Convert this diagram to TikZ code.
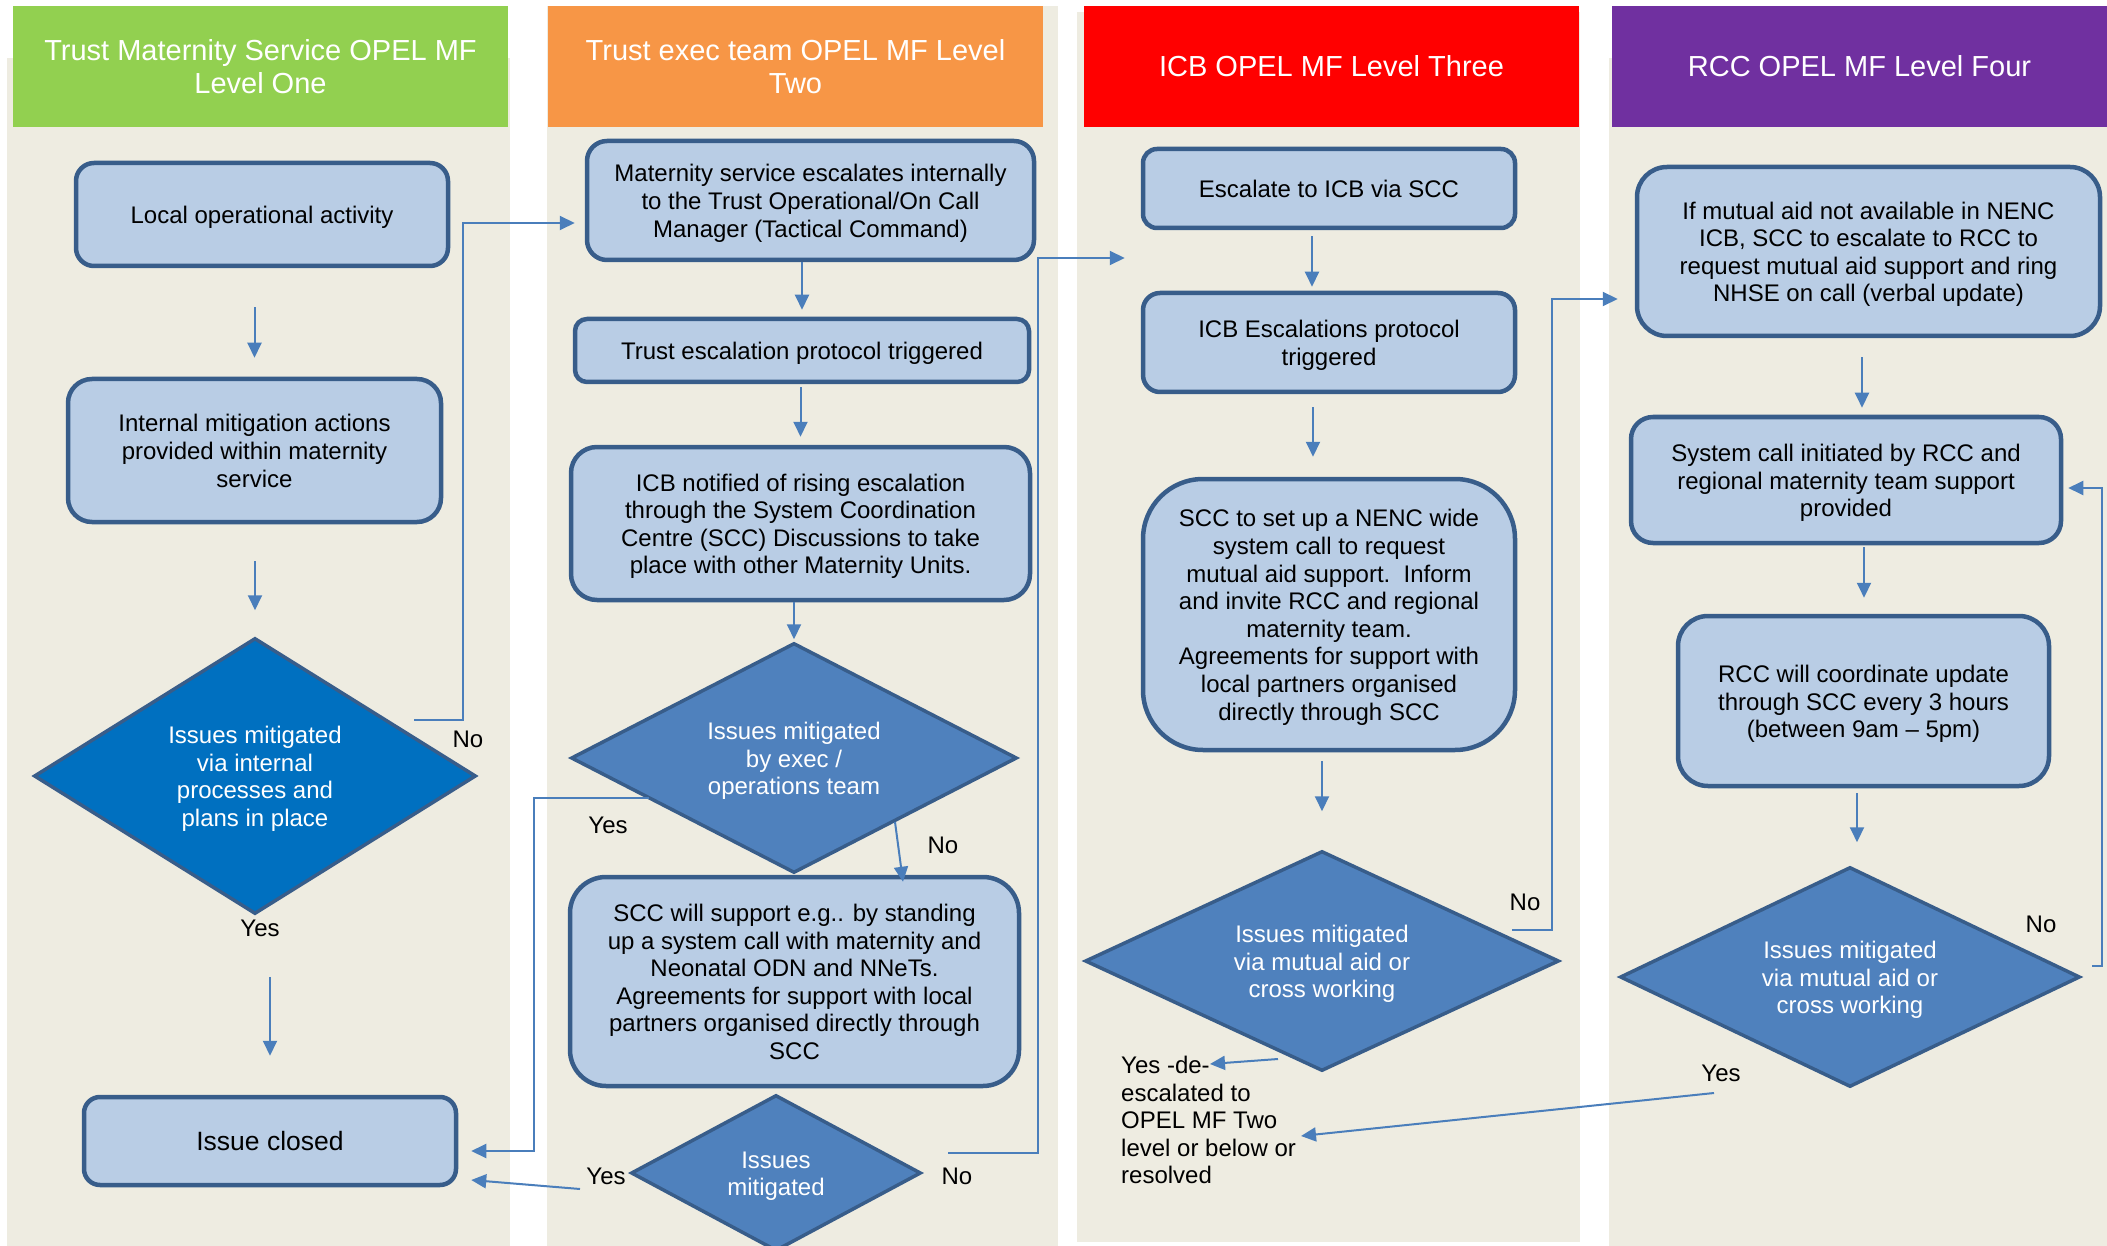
\documentclass[tikz,border=0pt]{standalone}
\usepackage{fontspec}
\setmainfont{Liberation Sans}
\usetikzlibrary{shapes.geometric,arrows.meta,calc}
\definecolor{bgc}{HTML}{EEECE1}
\definecolor{boxfill}{HTML}{B9CDE5}
\definecolor{boxline}{HTML}{385D8A}
\definecolor{diafill}{HTML}{4F81BD}
\definecolor{diadark}{HTML}{0070C0}
\definecolor{arrowc}{HTML}{4A7EBB}
\definecolor{hgreen}{HTML}{92D050}
\definecolor{horange}{HTML}{F79646}
\definecolor{hred}{HTML}{FF0000}
\definecolor{hpurple}{HTML}{7030A0}
\newcommand\boxfont{\fontsize{24}{27.6}\selectfont}
\newcommand\bigboxfont{\fontsize{26.5}{30}\selectfont}
\newcommand\hdrfont{\fontsize{29}{33}\selectfont}
\newcommand\fs{\rule{0pt}{25pt}}
\tikzset{
  vstrut/.style={execute at end node={\rule[-7pt]{0pt}{0pt}}},
  box/.style={draw=boxline, fill=boxfill, line width=4.5pt, align=center,
    inner sep=0pt, font=\boxfont, text=black, vstrut},
  dia/.style={diamond, draw=boxline, fill=diafill, line width=3.5pt, align=center,
    inner sep=0pt, aspect=1.6, text=white, font=\boxfont, vstrut},
  arr/.style={draw=arrowc, line width=2pt, -{Triangle[length=15pt,width=14pt]}},
  lab/.style={font=\boxfont, inner sep=0pt, text=black},
  hdr/.style={inner sep=0pt, align=center, text=white, font=\hdrfont},
}
\begin{document}
\begin{tikzpicture}[x=1pt,y=-1pt]
\clip (0,0) rectangle (2107,1246);
\fill[white] (0,0) rectangle (2107,1246);
% column backgrounds
\fill[bgc] (7,58) rectangle (510,1246);
\fill[bgc] (547,6) rectangle (1058,1246);
\fill[bgc] (1077,12) rectangle (1580,1242);
\fill[bgc] (1609,58) rectangle (2107,1246);
% headers
\node[hdr, fill=hgreen, minimum width=495pt, minimum height=121pt] (h1) at (260.5,66.5) {Trust Maternity Service OPEL MF\\Level One};
\node[hdr, fill=horange, minimum width=495pt, minimum height=121pt] (h2) at (795.5,66.5) {Trust exec team OPEL MF Level\\Two};
\node[hdr, fill=hred, minimum width=495pt, minimum height=121pt] (h3) at (1331.5,66.5) {ICB OPEL MF Level Three};
\node[hdr, fill=hpurple, minimum width=495pt, minimum height=121pt] (h4) at (1859.5,66.5) {RCC OPEL MF Level Four};

% column 1
\node[box, minimum width=372pt, minimum height=103pt, rounded corners=18pt] (b1) at (262,214.5) {\fs Local operational activity};
\node[box, minimum width=373pt, minimum height=143pt, rounded corners=24pt] (b2) at (254.5,450.5) {\fs Internal mitigation actions\\provided within maternity\\service};
\node[dia, fill=diadark, minimum width=442pt, minimum height=276pt] (d1) at (255,776) {\fs Issues mitigated\\via internal\\processes and\\plans in place};
\node[box, font=\bigboxfont, minimum width=372pt, minimum height=88pt, rounded corners=16pt] (b3) at (270,1141) {\fs Issue closed};

% column 2
\node[box, minimum width=447pt, minimum height=119pt, rounded corners=20pt] (b4) at (810.5,200.5) {\fs Maternity service escalates internally\\to the Trust Operational/On Call\\Manager (Tactical Command)};
\node[box, minimum width=454pt, minimum height=63pt, rounded corners=12pt] (b5) at (802,350.5) {\fs Trust escalation protocol triggered};
\node[box, minimum width=459pt, minimum height=153pt, rounded corners=26pt] (b6) at (800.5,523.5) {\fs ICB notified of rising escalation\\through the System Coordination\\Centre (SCC) Discussions to take\\place with other Maternity Units.};
\node[dia, minimum width=446pt, minimum height=230pt] (d2) at (794,758) {\fs Issues mitigated\\by exec /\\operations team};
\node[box, minimum width=449pt, minimum height=209pt, rounded corners=36pt] (b7) at (794.5,981.5) {\fs SCC will support e.g.. by standing\\up a system call with maternity and\\Neonatal ODN and NNeTs.\\Agreements for support with local\\partners organised directly through\\SCC};
\node[dia, minimum width=290pt, minimum height=156pt] (d3) at (776,1173) {\fs Issues\\mitigated};

% column 3
\node[box, minimum width=372pt, minimum height=79pt, rounded corners=14pt] (b8) at (1329,188.5) {\fs Escalate to ICB via SCC};
\node[box, minimum width=372pt, minimum height=99pt, rounded corners=17pt] (b9) at (1329,342.5) {\fs ICB Escalations protocol\\triggered};
\node[box, minimum width=372pt, minimum height=271pt, rounded corners=60pt] (b10) at (1329,614.5) {\fs SCC to set up a NENC wide\\system call to request\\mutual aid support.\ \ Inform\\and invite RCC and regional\\maternity team.\\Agreements for support with\\local partners organised\\directly through SCC};
\node[dia, minimum width=474pt, minimum height=220pt] (d4) at (1322,961) {\fs Issues mitigated\\via mutual aid or\\cross working};
\node[lab, anchor=north west, align=left] (yesde) at (1121,1056) {Yes -de-\\escalated to\\OPEL MF Two\\level or below or\\resolved};

% column 4
\node[box, minimum width=463pt, minimum height=169pt, rounded corners=30pt] (b11) at (1868.5,251.5) {\fs If mutual aid not available in NENC\\ICB, SCC to escalate to RCC to\\request mutual aid support and ring\\NHSE on call (verbal update)};
\node[box, minimum width=430pt, minimum height=126pt, rounded corners=22pt] (b12) at (1846,480) {\fs System call initiated by RCC and\\regional maternity team support\\provided};
\node[box, minimum width=371pt, minimum height=170pt, rounded corners=30pt] (b13) at (1863.5,701) {\fs RCC will coordinate update\\through SCC every 3 hours\\(between 9am -- 5pm)};
\node[dia, minimum width=460pt, minimum height=220pt] (d5) at (1850,977) {\fs Issues mitigated\\via mutual aid or\\cross working};

% labels
\node[lab] (l1no) at (468,739) {No};
\node[lab] (l1yes) at (260,928) {Yes};
\node[lab] (l2yes) at (608,825) {Yes};
\node[lab] (l2no) at (943,845) {No};
\node[lab] (l3yes) at (606,1176) {Yes};
\node[lab] (l3no) at (957,1176) {No};
\node[lab] (l4no) at (1525,902) {No};
\node[lab] (l5no) at (2041,924) {No};
\node[lab] (l5yes) at (1721,1073) {Yes};

% free ends
\coordinate (d1no) at (414,720);
\coordinate (d2yes) at (649,798);
\coordinate (d2no) at (895,822);
\coordinate (d3yes) at (580,1189);
\coordinate (d3no) at (948,1153);
\coordinate (d4no) at (1512,930);
\coordinate (d4yes) at (1278,1059);
\coordinate (d5no) at (2092,966);
\coordinate (d5yes) at (1714,1093);

% vertical arrows
\draw[arr, shorten <=39pt, shorten >=19pt] (b1.south -| b2.north) -- (b2.north);
\draw[arr, shorten <=37pt, shorten >=26pt] (b2.south -| d1.north) -- (d1.north);
\draw[arr, shorten <=61pt, shorten >=39pt] (b3.north |- d1.south) -- (b3.north);
\draw[arr, shorten >=7pt] (b4.south -| b5.north) -- (b5.north);
\draw[arr, shorten <=3pt, shorten >=8pt] (b5.south -| b6.north) -- (b6.north);
\draw[arr, shorten >=2pt] (b6.south -| d2.north) -- (d2.north);
\draw[arr, shorten <=6pt, shorten >=4pt] ($(b8.south)+(-17,0)$) coordinate (t8) -- (t8 |- b9.north);
\draw[arr, shorten <=13pt, shorten >=20pt] ($(b9.south)+(-16,0)$) coordinate (t9) -- (t9 |- b10.north);
\draw[arr, shorten <=9pt, shorten >=38pt] (d4.north |- b10.south) -- (d4.north);
\draw[arr, shorten <=19pt, shorten >=7pt] ($(b11.south)+(-6.5,0)$) coordinate (t11) -- (t11 |- b12.north);
\draw[arr, shorten <=2pt, shorten >=16pt] ($(b12.south)+(18,0)$) coordinate (t12) -- (t12 |- b13.north);
\draw[arr, shorten <=5pt, shorten >=23pt] ($(b13.south)+(-6.5,0)$) coordinate (t13) -- (t13 |- d5.north);

% decision connectors
\draw[arr] (d1no) -| ($(b4.west)+(-122,22.5)$) -- ($(b4.west)+(-10,22.5)$);
\draw[arr] (d2yes) -| ($(b3.east)+(76,10)$) -- ($(b3.east)+(13,10)$);
\draw[arr] (d2no) -- ($(b7.north)+(108.5,7)$);
\draw[arr] (d3yes) -- ($(b3.east)+(13,39)$);
\draw[arr] (d3no) -| ($(b8.west)+(-103,69.5)$) -- ($(b8.west)+(-16,69.5)$);
\draw[arr] (d4no) -| ($(b11.west)+(-83,47.5)$) -- ($(b11.west)+(-17,47.5)$);
\draw[arr] (d4yes) -- ($(yesde.north west)+(89,8)$);
\draw[arr] (d5no) -| ($(b12.east)+(39,8)$) -- ($(b12.east)+(5,8)$);
\draw[arr] (d5yes) -- ($(yesde.north west)+(180,80)$);
\end{tikzpicture}
\end{document}
